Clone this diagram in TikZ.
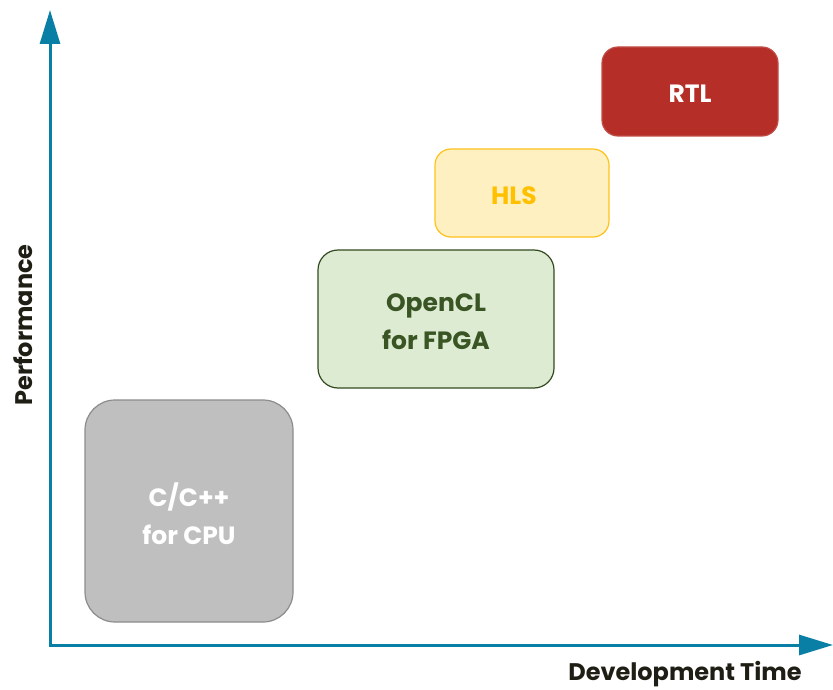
\documentclass[tikz,border=0pt]{standalone}
\usepackage{fontspec}
\setmainfont{Poppins}
\usetikzlibrary{arrows.meta}
\definecolor{axisblue}{HTML}{0A7FA6}
\definecolor{cpufill}{HTML}{BFBFBF}
\definecolor{cpuline}{HTML}{8C8C8C}
\definecolor{oclfill}{HTML}{DEEBD3}
\definecolor{oclline}{HTML}{324A1E}
\definecolor{oclText}{HTML}{3A5524}
\definecolor{hlsfill}{HTML}{FFF0C1}
\definecolor{hlsline}{HTML}{FFC21A}
\definecolor{hlstext}{HTML}{FFC000}
\definecolor{rtlfill}{HTML}{B52E28}
\definecolor{labeltext}{HTML}{1E1E14}
\tikzset{
  box/.style={draw, line width=1.2pt, rounded corners=#1},
  box/.default=18pt,
  boxtext/.style={font=\bfseries\fontsize{25}{38}\selectfont, align=center},
  axislbl/.style={font=\bfseries\fontsize{24}{28}\selectfont, text=labeltext},
  axisline/.style={draw=axisblue, line width=3pt, -{Triangle[length=34pt,width=20pt]}}
}
\begin{document}
\begin{tikzpicture}[x=1pt,y=-1pt]
\useasboundingbox (0,0) rectangle (833,690);
\coordinate (o) at (50,645);
\coordinate (ytop) at (50,10);
\coordinate (xend) at (833,645);
\draw[axisline] (o) -- (ytop);
\draw[axisline] ([xshift=-1.5pt]o) -- (xend);
\draw[box=30pt, draw=cpuline, fill=cpufill] (85,400) rectangle (293,622);
\node[boxtext, text=white] (cpu) at (189,514) {C/C++\\for CPU};
\draw[box=20pt, draw=oclline, fill=oclfill] (318,250) rectangle (554,388);
\node[boxtext, text=oclText] (ocl) at (436,322) {OpenCL\\for FPGA};
\draw[box=16pt, draw=hlsline, fill=hlsfill] (435,149) rectangle (609,237);
\node[boxtext, text=hlstext] (hls) at (514,196) {HLS};
\draw[box=16pt, draw=rtlfill!85!white, fill=rtlfill] (602,47) rectangle (778,136);
\node[boxtext, text=white] (rtl) at (690,94) {RTL};
\node[axislbl, rotate=90] (perf) at (23,325) {Performance};
\node[axislbl] (dev) at (685,674) {Development Time};
\end{tikzpicture}
\end{document}
